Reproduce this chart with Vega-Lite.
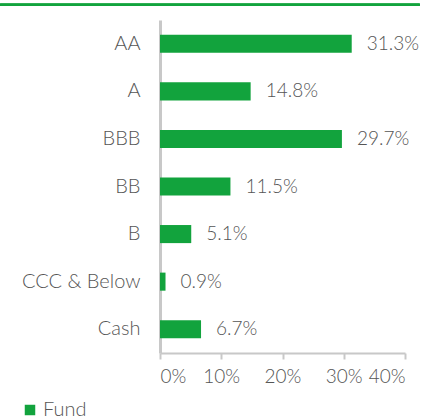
{
  "$schema": "https://vega.github.io/schema/vega-lite/v6.json",
  "autosize": "none",
  "width": 245,
  "height": 333,
  "padding": {"left": 160, "top": 20, "right": 21, "bottom": 67},
  "background": "white",
  "config": {
    "view": {"stroke": null},
    "font": "Lato",
    "axis": {"labelFont": "Lato", "labelFontWeight": 300, "labelColor": "#555555", "labelFontSize": 20, "grid": false, "domainColor": "#c8c8c8", "tickColor": "#c8c8c8", "title": null}
  },
  "data": {"values": [
    {"rating": "AA", "value": 0.313, "series": "Fund"},
    {"rating": "A", "value": 0.148, "series": "Fund"},
    {"rating": "BBB", "value": 0.297, "series": "Fund"},
    {"rating": "BB", "value": 0.115, "series": "Fund"},
    {"rating": "B", "value": 0.051, "series": "Fund"},
    {"rating": "CCC & Below", "value": 0.009, "series": "Fund"},
    {"rating": "Cash", "value": 0.067, "series": "Fund"}
  ]},
  "encoding": {
    "y": {"field": "rating", "type": "nominal", "sort": null,
      "scale": {"paddingInner": 0.62, "paddingOuter": 0.31},
      "axis": {"domainWidth": 3, "ticks": false, "labelPadding": 20, "labelFontSize": 20}},
    "x": {"field": "value", "type": "quantitative",
      "scale": {"domain": [0, 0.4]},
      "axis": {"values": [0, 0.1, 0.2, 0.3, 0.4], "format": ".0%", "labelFontSize": 19, "domainWidth": 2, "tickWidth": 2, "tickSize": 6, "labelPadding": 8}}
  },
  "layer": [
    {
      "mark": {"type": "bar", "color": "#12a33d"},
      "encoding": {
        "color": {"field": "series", "type": "nominal", "scale": {"range": ["#12a33d"]},
          "legend": {"title": null, "orient": "none", "legendX": -140, "legendY": 380, "symbolType": "square", "symbolSize": 110, "symbolStrokeWidth": 0, "labelFontSize": 20, "labelFont": "Lato", "labelFontWeight": 300, "labelColor": "#555555", "labelOffset": 3}}
      }
    },
    {
      "mark": {"type": "text", "align": "left", "dx": 15, "fontSize": 19, "fontWeight": 300, "color": "#555555", "font": "Lato"},
      "encoding": {"text": {"field": "value", "type": "quantitative", "format": ".1%"}}
    },
    {
      "mark": {"type": "rule", "color": "#12a33d", "strokeWidth": 2, "clip": false, "yOffset": -30},
      "encoding": {
        "x": {"datum": -0.261},
        "x2": {"datum": 0.424},
        "y": {"datum": "AA", "bandPosition": 0}
      }
    }
  ]
}
